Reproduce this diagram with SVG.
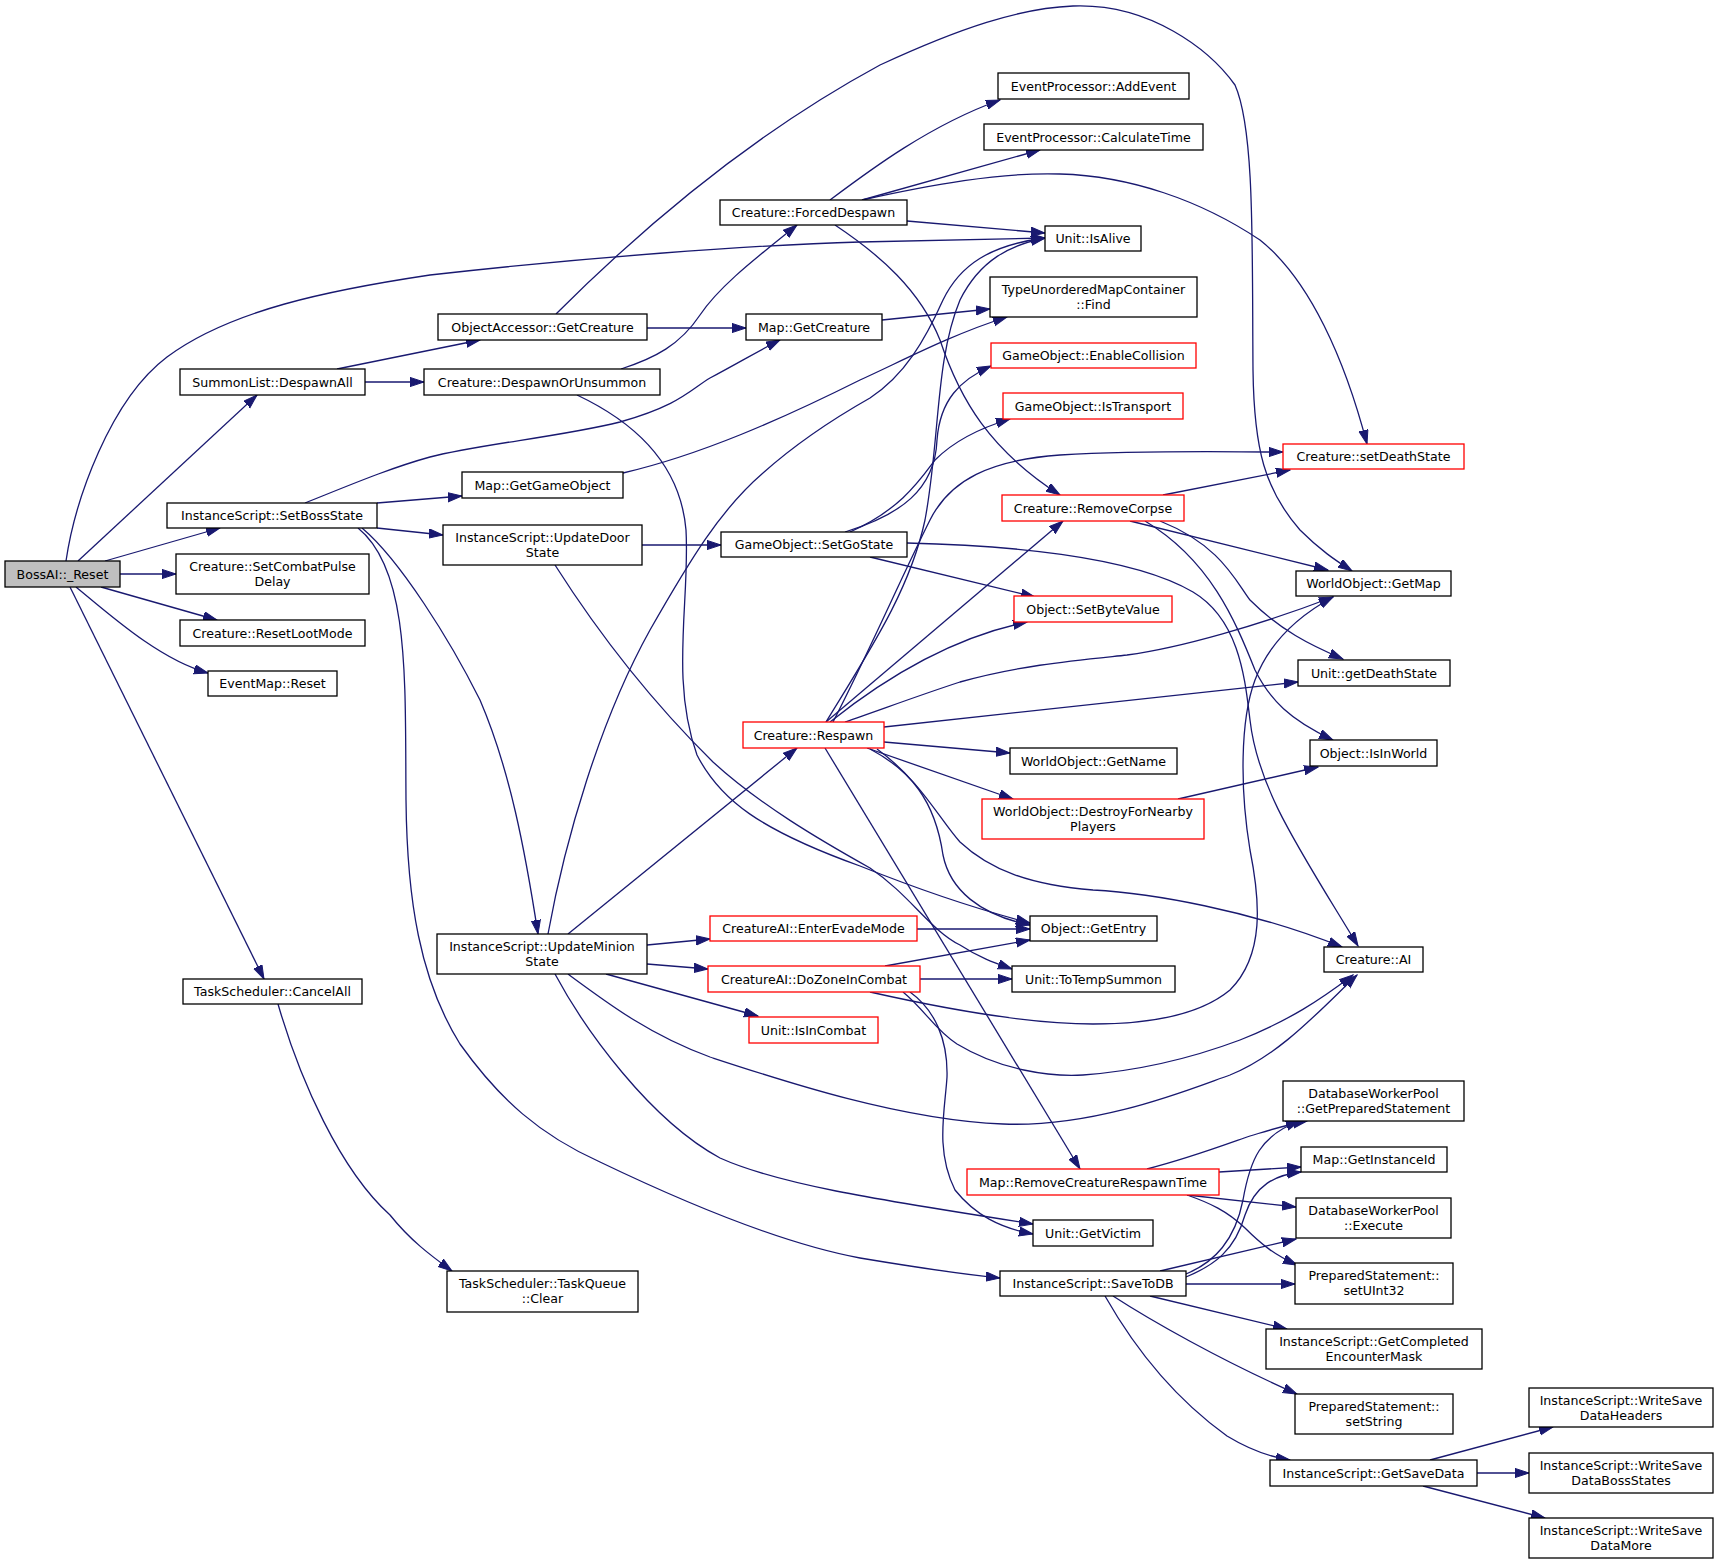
<svg xmlns="http://www.w3.org/2000/svg" width="1719" height="1564" viewBox="0 0 1719 1564">
<defs>
<style>
.n rect{fill:#fff;stroke:#000;stroke-width:1.3}
.r rect{fill:#fff;stroke:#ff0000;stroke-width:1.3}
.g rect{fill:#bfbfbf;stroke:#000;stroke-width:1.3}
text{font-family:"DejaVu Sans","Liberation Sans",sans-serif;font-size:12.6px;text-anchor:middle;fill:#000}
#edges path{fill:none;stroke:#191970;stroke-width:1.3;marker-end:url(#a)}
</style>
<marker id="a" markerWidth="15" markerHeight="11" refX="14" refY="5" orient="auto" markerUnits="userSpaceOnUse"><path d="M0,0.4 L14,5 L0,9.6 z" fill="#191970" stroke="#191970" stroke-width="1"/></marker>
</defs>
<rect width="1719" height="1564" fill="#fff"/>
<g id="edges">
<path d="M66,561 C75,500 110,400 167,357 C230,310 330,290 430,275 C580,258 750,245 860,242 L1045,238"/>
<path d="M78,561 L257,395"/>
<path d="M105,561 L220,528"/>
<path d="M120,574 L176,574"/>
<path d="M101,587 L217,620"/>
<path d="M76,587 C110,615 160,660 208,673"/>
<path d="M70,587 L264,979"/>
<path d="M337,369 L480,340"/>
<path d="M365,382 L424,382"/>
<path d="M647,328 L746,328"/>
<path d="M556,314 C650,220 760,130 880,65 C960,28 1020,8 1073,6 C1150,3 1210,50 1235,85 C1255,130 1252,250 1253,370 C1254,450 1265,490 1300,530 C1320,550 1335,560 1352,571"/>
<path d="M621,369 C655,358 680,345 700,315 C720,285 760,255 797,225"/>
<path d="M577,395 C630,420 680,460 686,530 C690,600 670,680 697,755 C720,800 760,830 860,866 C920,890 980,910 1030,923"/>
<path d="M305,503 C350,485 390,468 430,457 C480,444 560,437 620,422 C680,405 690,390 710,378 C740,362 760,350 780,340"/>
<path d="M377,503 L462,496"/>
<path d="M377,528 L443,535"/>
<path d="M362,528 C400,560 450,640 480,700 C510,770 525,850 538,934"/>
<path d="M358,528 C410,570 405,680 406,800 C407,900 420,980 460,1044 C500,1100 540,1135 600,1162 C700,1210 790,1245 860,1258 C920,1268 960,1274 1000,1278"/>
<path d="M642,545 L721,545"/>
<path d="M555,565 C590,620 640,690 713,762 C760,805 820,840 870,868 C910,895 930,930 960,945 C980,958 995,963 1012,969"/>
<path d="M845,532 C900,515 935,490 937,440 C940,400 960,380 991,366"/>
<path d="M850,532 C900,510 920,480 935,460 C955,440 980,428 1010,419"/>
<path d="M870,557 L1035,597"/>
<path d="M907,543 C1000,545 1130,555 1193,592 C1240,620 1245,680 1250,720 C1258,790 1300,850 1358,946"/>
<path d="M548,934 C565,840 600,720 650,630 C690,560 720,510 763,473 C800,440 840,415 870,398 C905,375 925,340 943,300 C960,265 990,245 1045,238"/>
<path d="M568,934 L797,748"/>
<path d="M647,945 L710,939"/>
<path d="M647,964 L708,969"/>
<path d="M606,974 L758,1016"/>
<path d="M555,974 C585,1030 650,1120 720,1158 C780,1185 880,1200 1033,1224"/>
<path d="M568,974 C610,1005 650,1035 710,1057 C780,1080 900,1120 1003,1124 C1100,1128 1200,1085 1230,1075 C1280,1055 1320,1010 1357,975"/>
<path d="M830,200 C870,170 930,125 1000,100"/>
<path d="M862,200 L1040,150"/>
<path d="M862,200 C930,185 1000,172 1060,174 C1130,176 1200,200 1260,240 C1310,280 1345,360 1367,444"/>
<path d="M907,221 L1045,233"/>
<path d="M835,225 C880,255 920,290 940,340 C960,400 990,450 1060,495"/>
<path d="M882,320 L990,309"/>
<path d="M623,473 C700,455 780,420 860,380 C900,362 950,335 1007,317"/>
<path d="M826,722 C870,650 910,590 925,520 C940,440 935,360 960,300 C980,260 1010,245 1045,238"/>
<path d="M833,722 C870,650 900,580 930,520 C950,480 990,460 1060,455 C1150,450 1220,452 1283,452"/>
<path d="M826,722 L1063,521"/>
<path d="M830,722 C870,690 940,640 1027,622"/>
<path d="M845,722 C880,710 920,695 960,682 C1020,665 1080,660 1127,655 C1180,648 1260,625 1333,597"/>
<path d="M884,727 L1298,682"/>
<path d="M884,742 L1010,753"/>
<path d="M867,748 L1013,799"/>
<path d="M870,749 C910,770 935,800 943,855 C950,890 980,915 1030,925"/>
<path d="M877,749 C920,780 940,820 960,842 C990,870 1030,885 1093,890 C1150,893 1250,910 1342,947"/>
<path d="M825,748 L1080,1169"/>
<path d="M1163,495 L1290,470"/>
<path d="M1130,521 L1328,570"/>
<path d="M1160,521 C1220,545 1235,580 1250,600 C1280,630 1310,645 1343,659"/>
<path d="M1145,521 C1210,560 1235,620 1255,670 C1270,700 1290,720 1333,740"/>
<path d="M1178,799 L1318,767"/>
<path d="M917,929 L1030,929"/>
<path d="M885,966 L1030,940"/>
<path d="M920,979 L1012,979"/>
<path d="M870,992 C950,1010 1030,1024 1093,1024 C1150,1024 1200,1015 1230,990 C1265,955 1260,900 1250,850 C1240,790 1240,720 1255,680 C1270,640 1300,615 1333,597"/>
<path d="M903,992 C925,1010 935,1030 957,1044 C1000,1070 1050,1077 1083,1075 C1150,1070 1200,1055 1240,1040 C1290,1020 1320,1000 1353,975"/>
<path d="M910,992 C935,1010 948,1040 947,1077 C945,1110 935,1150 955,1190 C975,1215 1000,1228 1033,1234"/>
<path d="M1147,1169 C1190,1158 1227,1144 1250,1136 C1270,1130 1285,1125 1307,1121"/>
<path d="M1219,1172 L1301,1167"/>
<path d="M1187,1195 L1296,1207"/>
<path d="M1187,1195 C1210,1203 1227,1211 1245,1228 C1262,1245 1275,1255 1297,1265"/>
<path d="M1186,1274 C1215,1262 1235,1240 1243,1200 C1250,1160 1260,1135 1300,1121"/>
<path d="M1186,1277 C1215,1265 1235,1250 1245,1215 C1255,1185 1275,1175 1301,1172"/>
<path d="M1160,1271 L1296,1239"/>
<path d="M1186,1284 L1295,1284"/>
<path d="M1150,1296 L1287,1329"/>
<path d="M1113,1296 C1150,1320 1220,1360 1297,1394"/>
<path d="M1105,1296 C1130,1340 1170,1395 1227,1436 C1250,1450 1270,1457 1290,1460"/>
<path d="M1430,1460 L1553,1427"/>
<path d="M1477,1473 L1529,1473"/>
<path d="M1423,1486 L1545,1518"/>
<path d="M278,1004 C300,1080 340,1170 390,1215 C410,1240 430,1255 452,1271"/>
</g>
<g id="n1" class="g"><rect x="5" y="561" width="115" height="26"/><text x="62.5" y="578.5">BossAI::_Reset</text></g>
<g id="n2" class="n"><rect x="180" y="369" width="185" height="26"/><text x="272.5" y="386.5">SummonList::DespawnAll</text></g>
<g id="n3" class="n"><rect x="167" y="503" width="210" height="25"/><text x="272" y="520">InstanceScript::SetBossState</text></g>
<g id="n4" class="n"><rect x="176" y="554" width="193" height="40"/><text x="272.5" y="571">Creature::SetCombatPulse</text><text x="272.5" y="586">Delay</text></g>
<g id="n5" class="n"><rect x="180" y="620" width="185" height="26"/><text x="272.5" y="637.5">Creature::ResetLootMode</text></g>
<g id="n6" class="n"><rect x="208" y="671" width="129" height="25"/><text x="272.5" y="688">EventMap::Reset</text></g>
<g id="n7" class="n"><rect x="183" y="979" width="179" height="25"/><text x="272.5" y="996">TaskScheduler::CancelAll</text></g>
<g id="n8" class="n"><rect x="438" y="314" width="209" height="26"/><text x="542.5" y="331.5">ObjectAccessor::GetCreature</text></g>
<g id="n9" class="n"><rect x="424" y="369" width="236" height="26"/><text x="542" y="386.5">Creature::DespawnOrUnsummon</text></g>
<g id="n10" class="n"><rect x="462" y="472" width="161" height="26"/><text x="542.5" y="489.5">Map::GetGameObject</text></g>
<g id="n11" class="n"><rect x="443" y="525" width="199" height="40"/><text x="542.5" y="542">InstanceScript::UpdateDoor</text><text x="542.5" y="557">State</text></g>
<g id="n12" class="n"><rect x="437" y="934" width="210" height="40"/><text x="542" y="951">InstanceScript::UpdateMinion</text><text x="542" y="966">State</text></g>
<g id="n13" class="n"><rect x="447" y="1271" width="191" height="41"/><text x="542.5" y="1288">TaskScheduler::TaskQueue</text><text x="542.5" y="1303">::Clear</text></g>
<g id="n14" class="n"><rect x="720" y="200" width="187" height="25"/><text x="813.5" y="217">Creature::ForcedDespawn</text></g>
<g id="n15" class="n"><rect x="746" y="314" width="136" height="26"/><text x="814" y="331.5">Map::GetCreature</text></g>
<g id="n16" class="n"><rect x="721" y="532" width="186" height="25"/><text x="814" y="549">GameObject::SetGoState</text></g>
<g id="n17" class="r"><rect x="743" y="722" width="141" height="26"/><text x="813.5" y="739.5">Creature::Respawn</text></g>
<g id="n18" class="r"><rect x="710" y="916" width="207" height="25"/><text x="813.5" y="933">CreatureAI::EnterEvadeMode</text></g>
<g id="n19" class="r"><rect x="708" y="966" width="212" height="26"/><text x="814" y="983.5">CreatureAI::DoZoneInCombat</text></g>
<g id="n20" class="r"><rect x="749" y="1017" width="129" height="26"/><text x="813.5" y="1034.5">Unit::IsInCombat</text></g>
<g id="n21" class="n"><rect x="998" y="73" width="191" height="26"/><text x="1093.5" y="90.5">EventProcessor::AddEvent</text></g>
<g id="n22" class="n"><rect x="984" y="124" width="219" height="26"/><text x="1093.5" y="141.5">EventProcessor::CalculateTime</text></g>
<g id="n23" class="n"><rect x="1045" y="226" width="96" height="25"/><text x="1093" y="243">Unit::IsAlive</text></g>
<g id="n24" class="n"><rect x="990" y="277" width="207" height="40"/><text x="1093.5" y="294">TypeUnorderedMapContainer</text><text x="1093.5" y="309">::Find</text></g>
<g id="n25" class="r"><rect x="991" y="343" width="205" height="25"/><text x="1093.5" y="360">GameObject::EnableCollision</text></g>
<g id="n26" class="r"><rect x="1003" y="393" width="180" height="26"/><text x="1093" y="410.5">GameObject::IsTransport</text></g>
<g id="n27" class="r"><rect x="1002" y="495" width="182" height="26"/><text x="1093" y="512.5">Creature::RemoveCorpse</text></g>
<g id="n28" class="r"><rect x="1014" y="596" width="158" height="26"/><text x="1093" y="613.5">Object::SetByteValue</text></g>
<g id="n29" class="n"><rect x="1010" y="748" width="167" height="26"/><text x="1093.5" y="765.5">WorldObject::GetName</text></g>
<g id="n30" class="r"><rect x="982" y="799" width="222" height="40"/><text x="1093" y="816">WorldObject::DestroyForNearby</text><text x="1093" y="831">Players</text></g>
<g id="n31" class="n"><rect x="1030" y="916" width="127" height="25"/><text x="1093.5" y="933">Object::GetEntry</text></g>
<g id="n32" class="n"><rect x="1012" y="966" width="163" height="26"/><text x="1093.5" y="983.5">Unit::ToTempSummon</text></g>
<g id="n33" class="r"><rect x="967" y="1169" width="252" height="26"/><text x="1093" y="1186.5">Map::RemoveCreatureRespawnTime</text></g>
<g id="n34" class="n"><rect x="1033" y="1220" width="120" height="26"/><text x="1093" y="1237.5">Unit::GetVictim</text></g>
<g id="n35" class="n"><rect x="1000" y="1271" width="186" height="25"/><text x="1093" y="1288">InstanceScript::SaveToDB</text></g>
<g id="n36" class="r"><rect x="1283" y="444" width="181" height="25"/><text x="1373.5" y="461">Creature::setDeathState</text></g>
<g id="n37" class="n"><rect x="1296" y="571" width="155" height="25"/><text x="1373.5" y="588">WorldObject::GetMap</text></g>
<g id="n38" class="n"><rect x="1298" y="660" width="152" height="26"/><text x="1374" y="677.5">Unit::getDeathState</text></g>
<g id="n39" class="n"><rect x="1310" y="740" width="127" height="26"/><text x="1373.5" y="757.5">Object::IsInWorld</text></g>
<g id="n40" class="n"><rect x="1324" y="947" width="99" height="25"/><text x="1373.5" y="964">Creature::AI</text></g>
<g id="n41" class="n"><rect x="1283" y="1081" width="181" height="40"/><text x="1373.5" y="1098">DatabaseWorkerPool</text><text x="1373.5" y="1113">::GetPreparedStatement</text></g>
<g id="n42" class="n"><rect x="1301" y="1147" width="146" height="25"/><text x="1374" y="1164">Map::GetInstanceId</text></g>
<g id="n43" class="n"><rect x="1296" y="1198" width="155" height="40"/><text x="1373.5" y="1215">DatabaseWorkerPool</text><text x="1373.5" y="1230">::Execute</text></g>
<g id="n44" class="n"><rect x="1295" y="1263" width="158" height="41"/><text x="1374" y="1280">PreparedStatement::</text><text x="1374" y="1295">setUInt32</text></g>
<g id="n45" class="n"><rect x="1266" y="1329" width="216" height="40"/><text x="1374" y="1346">InstanceScript::GetCompleted</text><text x="1374" y="1361">EncounterMask</text></g>
<g id="n46" class="n"><rect x="1295" y="1394" width="158" height="40"/><text x="1374" y="1411">PreparedStatement::</text><text x="1374" y="1426">setString</text></g>
<g id="n47" class="n"><rect x="1270" y="1460" width="207" height="26"/><text x="1373.5" y="1477.5">InstanceScript::GetSaveData</text></g>
<g id="n48" class="n"><rect x="1529" y="1388" width="184" height="39"/><text x="1621" y="1405">InstanceScript::WriteSave</text><text x="1621" y="1420">DataHeaders</text></g>
<g id="n49" class="n"><rect x="1529" y="1453" width="184" height="40"/><text x="1621" y="1470">InstanceScript::WriteSave</text><text x="1621" y="1485">DataBossStates</text></g>
<g id="n50" class="n"><rect x="1529" y="1518" width="184" height="40"/><text x="1621" y="1535">InstanceScript::WriteSave</text><text x="1621" y="1550">DataMore</text></g>
</svg>
